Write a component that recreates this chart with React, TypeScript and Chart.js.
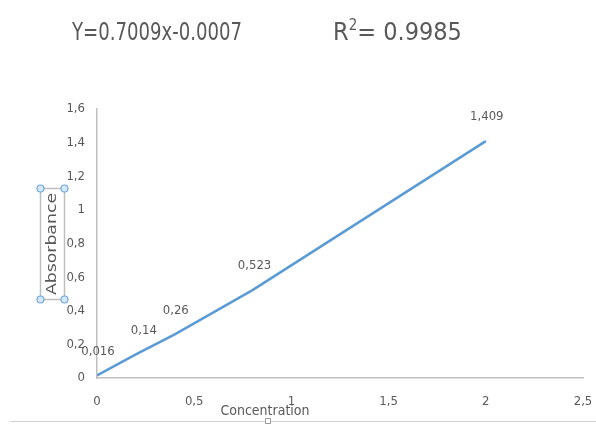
import React, { useEffect, useRef } from "react";
import { Chart, registerables } from "chart.js";

Chart.register(...registerables);

const concentration = [0, 0.2, 0.4, 0.8, 2];
const absorbance = [0.016, 0.14, 0.26, 0.523, 1.409];
const pointLabels = ["0,016", "0,14", "0,26", "0,523", "1,409"];
const equationText = "Y=0.7009x-0.0007";
const r2Value = "= 0.9985";
const xTitle = "Concentration";
const yTitle = "Absorbance";

const FONT = "'DejaVu Sans Condensed', 'Liberation Sans Narrow', 'Open Sans', sans-serif";
const GREY = "#595959";

const fmt = (v: number) => String(Number(v.toFixed(2))).replace(".", ",");

function fitText(ctx: CanvasRenderingContext2D, text: string, x: number, y: number, width: number) {
  const w = ctx.measureText(text).width;
  ctx.save();
  ctx.translate(x, y);
  ctx.scale(width / w, 1);
  ctx.fillText(text, 0, 0);
  ctx.restore();
}

const labelDx = [1, 8, 1, 2, 1];

const decorPlugin = {
  id: "decor",
  afterDraw(chart: any) {
    const ctx = chart.ctx as CanvasRenderingContext2D;
    const meta = chart.getDatasetMeta(0);
    ctx.save();
    // data labels
    ctx.fillStyle = GREY;
    ctx.font = `13px ${FONT}`;
    ctx.textAlign = "center";
    ctx.textBaseline = "middle";
    meta.data.forEach((pt: any, i: number) => {
      ctx.fillText(pointLabels[i], pt.x + labelDx[i], pt.y - 24);
    });
    // equation title
    ctx.font = `25px ${FONT}`;
    ctx.textAlign = "left";
    fitText(ctx, equationText, 72, 33, 170);
    ctx.fillText("R", 333, 33);
    const rw = ctx.measureText("R").width;
    ctx.font = `15px ${FONT}`;
    ctx.fillText("2", 333 + rw, 26);
    const sw = ctx.measureText("2").width;
    ctx.font = `25px ${FONT}`;
    ctx.fillText(r2Value, 333 + rw + sw, 33);
    // x axis title
    ctx.font = `14px ${FONT}`;
    ctx.textAlign = "center";
    ctx.fillText(xTitle, 265, 411);
    // y axis title with selection box
    ctx.save();
    ctx.translate(52, 244);
    ctx.rotate(-Math.PI / 2);
    ctx.font = `14px ${FONT}`;
    ctx.textAlign = "left";
    fitText(ctx, yTitle, -51, 0, 102);
    ctx.restore();
    ctx.strokeStyle = "#BFBFBF";
    ctx.lineWidth = 1.5;
    ctx.strokeRect(40.5, 188.5, 24, 111);
    const corners = [
      [40.5, 188.5],
      [64.5, 188.5],
      [40.5, 299.5],
      [64.5, 299.5],
    ];
    corners.forEach(([cx, cy]) => {
      ctx.beginPath();
      ctx.arc(cx, cy, 3.5, 0, Math.PI * 2);
      ctx.fillStyle = "#D6E8F5";
      ctx.fill();
      ctx.strokeStyle = "#6FA8DC";
      ctx.lineWidth = 1.2;
      ctx.stroke();
    });
    // bottom frame line with handle
    ctx.strokeStyle = "#D0D0D0";
    ctx.lineWidth = 1;
    ctx.beginPath();
    ctx.moveTo(10, 421.5);
    ctx.lineTo(596, 421.5);
    ctx.stroke();
    ctx.fillStyle = "#FFFFFF";
    ctx.fillRect(265, 418, 6, 6);
    ctx.strokeStyle = "#A0A0A0";
    ctx.strokeRect(265.5, 418.5, 5, 5);
    ctx.restore();
  },
};

export default function App() {
  const ref = useRef<HTMLCanvasElement | null>(null);
  useEffect(() => {
    document.body.style.margin = "0";
    const canvas = ref.current!;
    const chart = new Chart(canvas, {
      type: "scatter",
      data: {
        datasets: [
          {
            data: concentration.map((x, i) => ({ x, y: absorbance[i] })),
            showLine: true,
            borderColor: "#5B9BD5",
            borderWidth: 2.5,
            pointRadius: 0,
            tension: 0,
          },
        ],
      },
      options: {
        responsive: false,
        animation: false,
        devicePixelRatio: 1,
        layout: { padding: { left: 0, right: 13, top: 109, bottom: 0 } },
        plugins: {
          legend: { display: false },
          tooltip: { enabled: false },
          title: { display: false },
        },
        scales: {
          x: {
            type: "linear",
            min: 0,
            max: 2.5,
            grid: { display: false, drawTicks: false },
            border: { display: true, color: "#BFBFBF", width: 1.5 },
            ticks: {
              stepSize: 0.5,
              padding: 16,
              color: GREY,
              font: { family: FONT, size: 13 },
              callback: (v: any) => fmt(Number(v)),
            },
            afterFit: (s: any) => {
              s.height = 48;
              s.paddingLeft = 0;
              s.paddingRight = 0;
            },
          },
          y: {
            type: "linear",
            min: 0,
            max: 1.6,
            grid: { display: false, drawTicks: false },
            border: { display: true, color: "#BFBFBF", width: 1.5 },
            ticks: {
              stepSize: 0.2,
              padding: 12,
              color: GREY,
              font: { family: FONT, size: 13 },
              callback: (v: any) => fmt(Number(v)),
            },
            afterFit: (s: any) => {
              s.width = 97;
              s.paddingTop = 0;
              s.paddingBottom = 0;
            },
          },
        },
      },
      plugins: [decorPlugin],
    });
    return () => chart.destroy();
  }, []);
  return <canvas ref={ref} width={596} height={426} style={{ display: "block" }} />;
}
